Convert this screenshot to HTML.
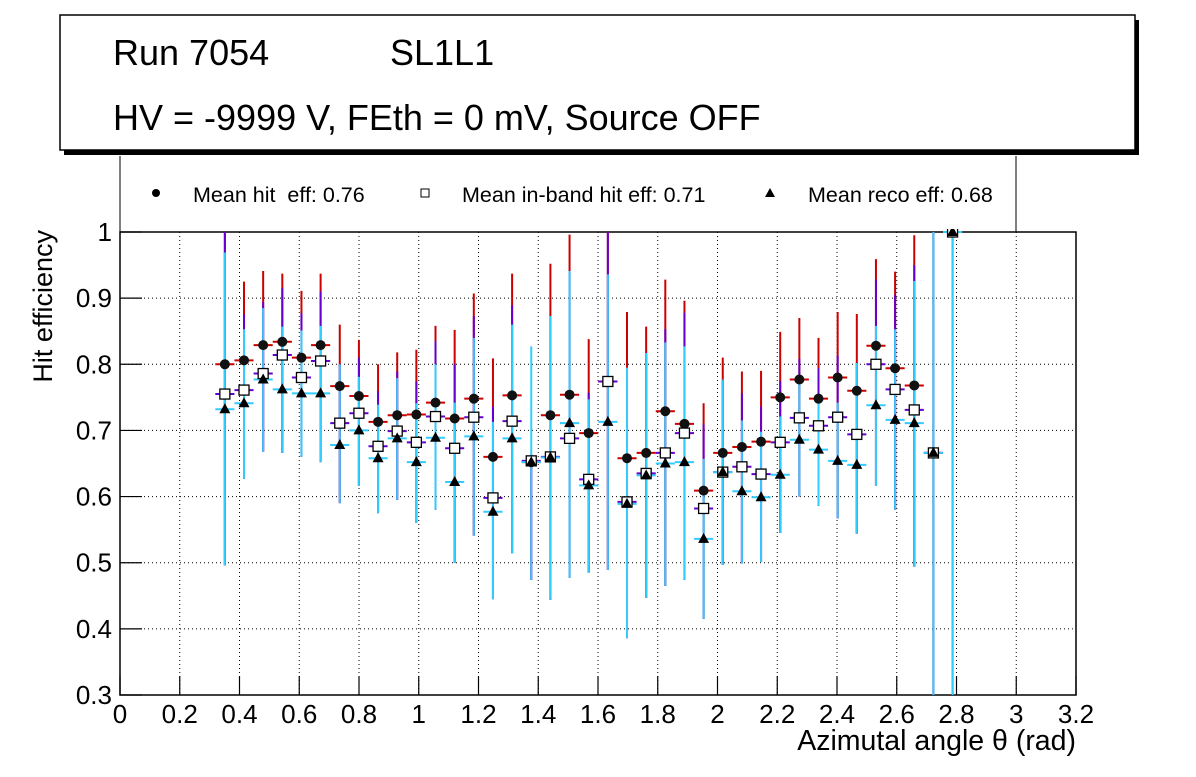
<!DOCTYPE html>
<html><head><meta charset="utf-8"><style>
body{margin:0;background:#fff;width:1196px;height:772px;overflow:hidden}
svg text{font-family:"Liberation Sans",Arial,sans-serif;white-space:pre}
</style></head><body>
<svg id="c" width="1196" height="772" xmlns="http://www.w3.org/2000/svg"></svg>
<script>
const xStart = 0.351, xStep = 0.0641;
const hit    = [.80,.806,.829,.834,.81,.829,.767,.752,.713,.723,.724,.742,.718,.748,.66,.753,.652,.723,.754,.696,.774,.658,.666,.729,.71,.609,.666,.675,.683,.75,.777,.748,.78,.76,.828,.794,.768,.666,1.0];
const hitUp  = [.20,.119,.112,.103,.101,.108,.093,.085,.087,.095,.098,.116,.134,.159,.149,.184,.01,.229,.242,.142,.226,.221,.191,.199,.186,.132,.144,.114,.107,.099,.093,.092,.099,.116,.131,.146,.227,.334,0];
const inb    = [.755,.761,.786,.814,.78,.805,.711,.726,.676,.699,.682,.721,.673,.72,.598,.714,.654,.66,.688,.626,.774,.592,.635,.666,.696,.582,.637,.645,.634,.682,.719,.707,.72,.694,.80,.762,.731,.666,1.0];
const inbUp  = [.245,.114,.108,.101,.097,.105,.089,.084,.083,.09,.092,.114,.127,.153,.138,.175,.01,.213,.25,.131,.226,.20,.18,.187,.182,.127,.14,.111,.102,.093,.089,.087,.093,.108,.128,.143,.219,.334,0];
const reco   = [.732,.741,.777,.762,.756,.756,.678,.70,.658,.688,.652,.689,.622,.691,.577,.688,.652,.659,.711,.617,.713,.589,.632,.65,.652,.536,.637,.608,.599,.633,.686,.671,.654,.648,.738,.716,.711,.666,1.0];
const recoUp = [.237,.112,.108,.095,.095,.102,.122,.081,.081,.091,.089,.111,.12,.149,.136,.172,.175,.214,.23,.13,.223,.206,.185,.183,.175,.121,.14,.107,.099,.088,.085,.084,.088,.154,.12,.137,.215,.334,0];
const recoLo = [.236,.114,.109,.096,.096,.104,.088,.084,.083,.093,.092,.109,.122,.15,.132,.174,.178,.215,.234,.132,.224,.203,.185,.185,.178,.121,.14,.109,.098,.088,.086,.085,.087,.104,.122,.136,.217,.366,.7];
const xTicks = [0,0.2,0.4,0.6,0.8,1,1.2,1.4,1.6,1.8,2,2.2,2.4,2.6,2.8,3,3.2];
const yTicks = [0.3,0.4,0.5,0.6,0.7,0.8,0.9,1];

const NS="http://www.w3.org/2000/svg", svg=document.getElementById('c');
const X0=120,X1=1076,Y0=695,Y1=232;
const sx=v=>X0+(v-0)/3.2*(X1-X0);
const sy=v=>Y0-(v-0.3)/0.7*(Y0-Y1);
function mk(tag,at,parent){const e=document.createElementNS(NS,tag);for(const k in at)e.setAttribute(k,at[k]);(parent||svg).appendChild(e);return e;}

// title box
mk('rect',{x:64,y:20,width:1075,height:135,fill:'#000'});
const tb=mk('rect',{x:60,y:15,width:1075,height:135,fill:'#fff',stroke:'#000','stroke-width':1.5});


let t=mk('text',{x:113,y:65,'font-size':36,fill:'#000'});t.textContent='Run 7054';

t=mk('text',{x:390,y:65,'font-size':36,fill:'#000'});t.textContent='SL1L1';

t=mk('text',{x:113,y:130,'font-size':36,fill:'#000'});t.textContent='HV = -9999 V, FEth = 0 mV, Source OFF';


// legend
const lg=mk('g',{});

mk('line',{x1:120,y1:156,x2:120,y2:232,stroke:'#000','stroke-width':1},lg);
mk('line',{x1:1016,y1:156,x2:1016,y2:232,stroke:'#000','stroke-width':1},lg);
mk('circle',{cx:156,cy:193,r:4,fill:'#000'},lg);
t=mk('text',{x:193,y:202,'font-size':21.5},lg);t.textContent='Mean hit  eff: 0.76';

mk('rect',{x:421,y:189,width:8,height:8,fill:'#fff',stroke:'#000','stroke-width':1},lg);
t=mk('text',{x:462,y:202,'font-size':21.5},lg);t.textContent='Mean in-band hit eff: 0.71';

mk('polygon',{points:'770,188 775,197 765,197',fill:'#000'},lg);
t=mk('text',{x:808,y:202,'font-size':21.5},lg);t.textContent='Mean reco eff: 0.68';


// grid
xTicks.forEach(v=>{if(v>0&&v<3.2)mk('line',{x1:sx(v),y1:Y1,x2:sx(v),y2:Y0,stroke:'#000','stroke-width':1,'stroke-dasharray':'1,3'});});
yTicks.forEach(v=>{if(v>0.3&&v<1)mk('line',{x1:X0,y1:sy(v),x2:X1,y2:sy(v),stroke:'#000','stroke-width':1,'stroke-dasharray':'1,3'});});
// frame
const fr=mk('rect',{x:X0,y:Y1,width:X1-X0,height:Y0-Y1,fill:'none',stroke:'#000','stroke-width':1.5});

// ticks & labels
xTicks.forEach(v=>{
  mk('line',{x1:sx(v),y1:Y0,x2:sx(v),y2:Y0-19,stroke:'#000','stroke-width':1.2});
  const l=mk('text',{x:sx(v),y:723,'font-size':26,'text-anchor':'middle'});l.textContent=String(v);
  
});
yTicks.forEach(v=>{
  mk('line',{x1:X0,y1:sy(v),x2:X0+22,y2:sy(v),stroke:'#000','stroke-width':1.2});
  const l=mk('text',{x:112,y:sy(v)+9,'font-size':26,'text-anchor':'end'});l.textContent=String(v);
  
});
t=mk('text',{x:1076,y:750,'font-size':28.5,'text-anchor':'end'});t.textContent='Azimutal angle θ (rad)';

t=mk('text',{x:0,y:0,'font-size':27,'text-anchor':'end',transform:'translate(52,230) rotate(-90)'});t.textContent='Hit efficiency';


// clip
const defs=mk('defs',{});const cp=mk('clipPath',{id:'pc'},defs);
mk('rect',{x:X0,y:Y1-3,width:X1-X0,height:Y0-Y1+3},cp);
const g=mk('g',{'clip-path':'url(#pc)'});

const hw=0.032;
function bars(vals,up,col,name){
  vals.forEach((v,i)=>{
    const x=xStart+i*xStep;const lo=reco[i]-recoLo[i];
    const b=mk('g',{},g);
    
    
    mk('line',{x1:sx(x),y1:sy(Math.min(1.01,v+up[i])),x2:sx(x),y2:sy(Math.max(0.29,Math.min(v,lo))),stroke:col,'stroke-width':2},b);
    mk('line',{x1:sx(x-hw),y1:sy(v),x2:sx(x+hw),y2:sy(v),stroke:col,'stroke-width':2},b);
  });
}
bars(hit,hitUp,'#cc0000','hit-error-bar');
bars(inb,inbUp,'#6600cc','inband-error-bar');
bars(reco,recoUp,'#33ccff','reco-error-bar');
hit.forEach((v,i)=>{const x=sx(xStart+i*xStep);const m=mk('circle',{cx:x,cy:sy(v),r:5,fill:'#111'},g);
  });
inb.forEach((v,i)=>{const x=sx(xStart+i*xStep);const m=mk('rect',{x:x-5,y:sy(v)-5,width:10,height:10,fill:'#fff',stroke:'#000','stroke-width':1.3},g);
  });
reco.forEach((v,i)=>{const x=sx(xStart+i*xStep),y=sy(v);const m=mk('polygon',{points:`${x},${y-6} ${x+5.5},${y+4} ${x-5.5},${y+4}`,fill:'#000'},g);
  });
</script>
</body></html>
